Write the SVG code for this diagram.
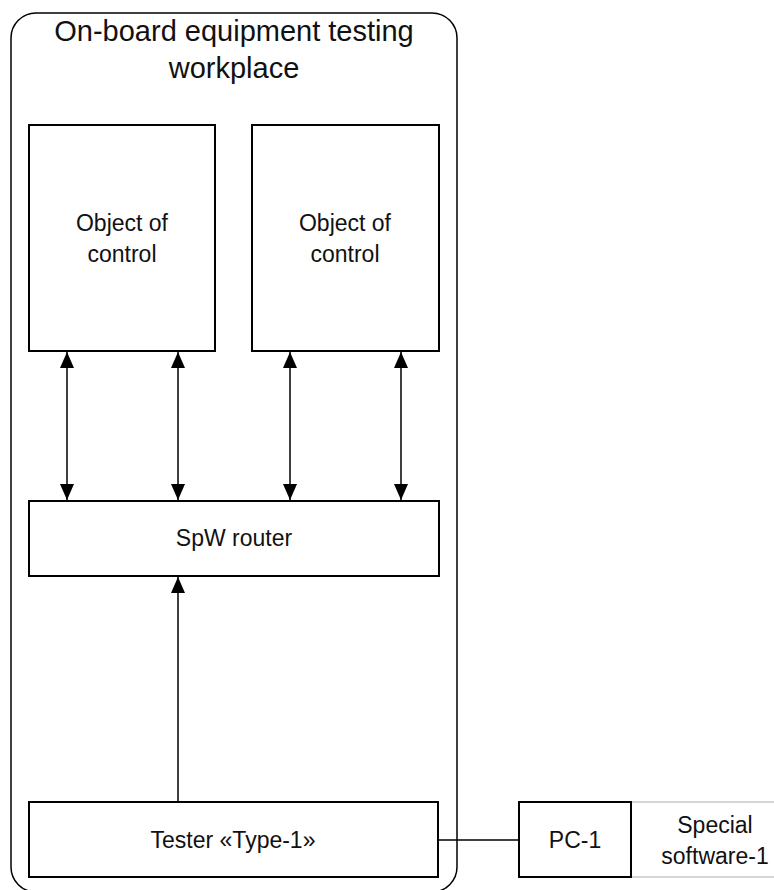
<svg xmlns="http://www.w3.org/2000/svg" width="774" height="890" viewBox="0 0 774 890">
<style>
text{font-family:"Liberation Sans",Arial,sans-serif;fill:#111;text-anchor:middle}
.t{font-size:29px}
.b{font-size:23px}
.box{fill:#fff;stroke:#000;stroke-width:2}
.soft{fill:#fff;stroke:#c8c8c8;stroke-width:1.5}
.ln{fill:none;stroke:#000;stroke-width:1.5}
</style>
<defs>
<marker id="ah" markerUnits="userSpaceOnUse" markerWidth="16" markerHeight="14" viewBox="0 0 16 14" refX="16" refY="7" orient="auto-start-reverse">
<path d="M0,0 L16,7 L0,14 Z" fill="#000"/>
</marker>
</defs>
<g id="workplace">
<rect x="11" y="13" width="446" height="879" rx="25" ry="25" fill="#fff" stroke="#000" stroke-width="1.5"/>
<text class="t" x="234" y="41">On-board equipment testing</text>
<text class="t" x="234" y="78">workplace</text>
</g>
<g id="obj1">
<rect class="box" x="29" y="125" width="186" height="226"/>
<text class="b" x="122" y="231">Object of</text>
<text class="b" x="122" y="262">control</text>
</g>
<g id="obj2">
<rect class="box" x="252" y="125" width="187" height="226"/>
<text class="b" x="345" y="231">Object of</text>
<text class="b" x="345" y="262">control</text>
</g>
<g id="router">
<rect class="box" x="29" y="501" width="410" height="75"/>
<text class="b" x="234" y="546">SpW router</text>
</g>
<g id="tester">
<rect class="box" x="29" y="802" width="409" height="75"/>
<text class="b" x="233" y="848">Tester «Type-1»</text>
</g>
<g id="software">
<rect class="soft" x="631" y="802" width="168" height="75"/>
<text class="b" x="715" y="833">Special</text>
<text class="b" x="715" y="864">software-1</text>
</g>
<g id="pc1">
<rect class="box" x="519" y="802" width="112" height="75"/>
<text class="b" x="575" y="848">PC-1</text>
</g>
<g id="connectors">
<line class="ln" x1="67" y1="352" x2="67" y2="500" marker-start="url(#ah)" marker-end="url(#ah)"/>
<line class="ln" x1="178" y1="352" x2="178" y2="500" marker-start="url(#ah)" marker-end="url(#ah)"/>
<line class="ln" x1="290" y1="352" x2="290" y2="500" marker-start="url(#ah)" marker-end="url(#ah)"/>
<line class="ln" x1="401" y1="352" x2="401" y2="500" marker-start="url(#ah)" marker-end="url(#ah)"/>
<line class="ln" x1="178" y1="801" x2="178" y2="577" marker-end="url(#ah)"/>
<line class="ln" x1="439" y1="840" x2="518" y2="840"/>
</g>
</svg>
